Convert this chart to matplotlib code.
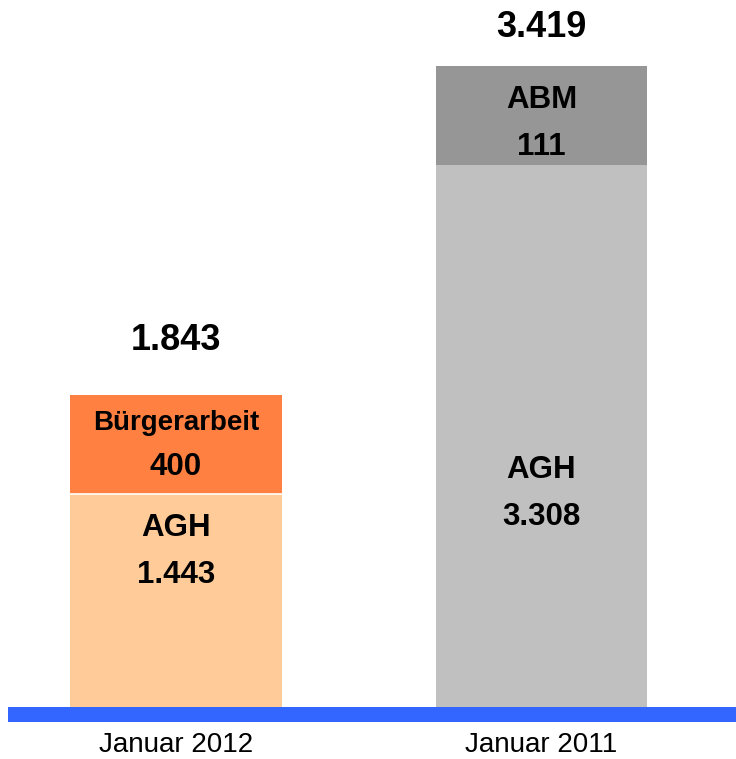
import matplotlib
matplotlib.use("Agg")
import matplotlib.pyplot as plt

plt.rcParams["font.family"] = ["Liberation Sans", "DejaVu Sans"]

# data as labelled in the original chart
categories = ["Januar 2012", "Januar 2011"]
base_names = ["AGH", "AGH"]
base_values = [1443, 3308]
top_names = ["Bürgerarbeit", "ABM"]
top_values = [400, 111]
totals = [1843, 3419]

# segment heights as drawn in the original (it is not drawn to scale),
# expressed in the units of the right-hand AGH bar
base_drawn = [1298, 3308]
top_drawn = [609, 603]

BLUE = "#3366FF"
BASE_COLORS = ["#FFCC99", "#C0C0C0"]
TOP_COLORS = ["#FF8040", "#969696"]


def fmt(v):
    return f"{v:,}".replace(",", ".")


PX = 0.72  # points per pixel at dpi 100

fig = plt.figure(figsize=(7.36, 7.59), dpi=100, facecolor="white")
ax = fig.add_axes([8 / 736, 37 / 759, 728 / 736, 722 / 759])

xs = [0, 1]
width = 0.58
ax.bar(xs, base_drawn, width=width, color=BASE_COLORS, linewidth=0)
ax.bar(xs, top_drawn, width=width, bottom=base_drawn,
       color=TOP_COLORS, linewidth=0)
# thin white seam between the two orange segments
ax.plot([xs[0] - width / 2, xs[0] + width / 2], [base_drawn[0]] * 2,
        color="white", linewidth=1.2)

k = 3308 / 542  # data units per pixel
ax.set_xlim(-168 / 365.5, 560 / 365.5)
ax.set_ylim(-15 * k, 707 * k)
ax.axhspan(-15 * k, 0, color=BLUE, linewidth=0)

# labels inside the top segments
for i, x in enumerate(xs):
    top = base_drawn[i] + top_drawn[i]
    name_size = 20 if len(top_names[i]) > 6 else 22.5
    ax.annotate(top_names[i], (x, top), xytext=(0, -(28 if i == 0 else 34) * PX),
                textcoords="offset points", ha="center", va="center",
                fontsize=name_size, fontweight="bold")
    ax.annotate(fmt(top_values[i]), (x, top), xytext=(0, -(72 if i == 0 else 81) * PX),
                textcoords="offset points", ha="center", va="center",
                fontsize=22.5, fontweight="bold")

# labels inside the base segments
base_drop = [34, 305]
for i, x in enumerate(xs):
    ax.annotate(base_names[i], (x, base_drawn[i]),
                xytext=(0, -base_drop[i] * PX), textcoords="offset points",
                ha="center", va="center", fontsize=22.5, fontweight="bold")
    ax.annotate(fmt(base_values[i]), (x, base_drawn[i]),
                xytext=(0, -(base_drop[i] + 47) * PX), textcoords="offset points",
                ha="center", va="center", fontsize=22.5, fontweight="bold")

# totals above the bars
total_rise = [54, 39]
for i, x in enumerate(xs):
    ax.annotate(fmt(totals[i]), (x, base_drawn[i] + top_drawn[i]),
                xytext=(0, total_rise[i] * PX), textcoords="offset points",
                ha="center", va="center", fontsize=26, fontweight="bold")

ax.set_xticks(xs)
ax.set_xticklabels(categories, fontsize=20)
ax.tick_params(axis="x", length=0, pad=7)
ax.set_yticks([])
for s in ax.spines.values():
    s.set_visible(False)

fig.savefig("out.png", dpi=100, facecolor="white")
